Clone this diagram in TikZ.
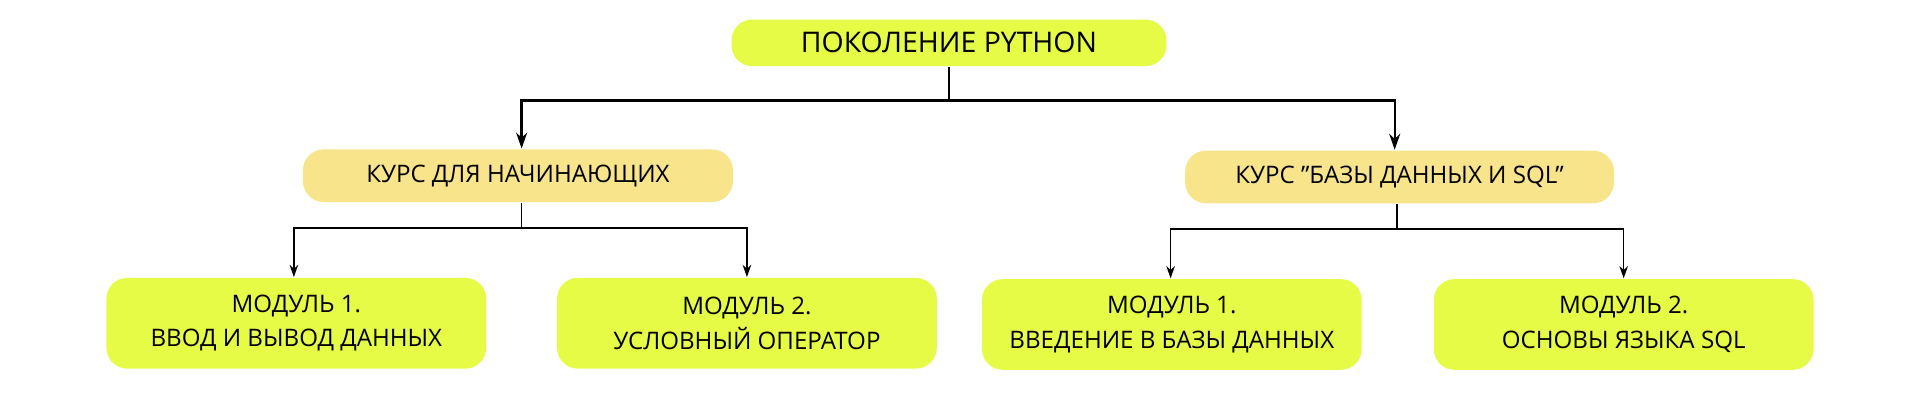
\documentclass[tikz,border=0pt]{standalone}
\usepackage{fontspec}
\setmainfont{Open Sans}
\usetikzlibrary{arrows.meta}
\definecolor{lime}{HTML}{E6FB45}
\definecolor{sand}{HTML}{F8E48A}

\begin{document}
\begin{tikzpicture}[x=0.01cm,y=-0.01cm]
    \tikzset{box/.style={rounded corners=0.17cm, inner sep=0pt, align=center, font=\fontsize{5.6}{8}\selectfont},
        wire/.style={line width=0.55pt, -{Stealth[length=1.3mm,width=0.9mm]}},
        thin wire/.style={line width=0.35pt, -{Stealth[length=1.0mm,width=0.7mm]}}}
    \useasboundingbox (0,0) rectangle (1568,327.5);
    \node[box, fill=lime, minimum width=3.55cm, minimum height=0.38cm, font=\fontsize{6.6}{8}\selectfont] (top) at (775,35) {ПОКОЛЕНИЕ PYTHON};
    \node[box, fill=sand, minimum width=3.51cm, minimum height=0.43cm] (left) at (423,143.5) {КУРС ДЛЯ НАЧИНАЮЩИХ};
    \node[box, fill=sand, minimum width=3.50cm, minimum height=0.43cm] (right) at (1143,144.5) {КУРС "БАЗЫ ДАННЫХ И SQL"};
    \node[box, fill=lime, minimum width=3.10cm, minimum height=0.74cm] (m11) at (242,264) {МОДУЛЬ 1.\\ВВОД И ВЫВОД ДАННЫХ};
    \node[box, fill=lime, minimum width=3.10cm, minimum height=0.74cm] (m12) at (610,264) {МОДУЛЬ 2.\\УСЛОВНЫЙ ОПЕРАТОР};
    \node[box, fill=lime, minimum width=3.10cm, minimum height=0.74cm] (m21) at (957,265) {МОДУЛЬ 1.\\ВВЕДЕНИЕ В БАЗЫ ДАННЫХ};
    \node[box, fill=lime, minimum width=3.10cm, minimum height=0.74cm] (m22) at (1326,265) {МОДУЛЬ 2.\\ОСНОВЫ ЯЗЫКА SQL};

    \coordinate (j0) at (775,82);
    \coordinate (j1) at (426,186);
    \coordinate (j2) at (1141,187);
    \draw[line width=0.55pt] (top.south) -- (j0);
    \draw[wire] (j0) -| (left.north -| 426,0);
    \draw[wire] (j0) -| (right.north -| 1139,0);
    \draw[line width=0.35pt] (left.south -| j1) -- (j1);
    \draw[thin wire] (j1) -| (m11.north -| 240,0);
    \draw[thin wire] (j1) -| (m12.north);
    \draw[line width=0.35pt] (right.south -| j2) -- (j2);
    \draw[thin wire] (j2) -| (m21.north -| 956,0);
    \draw[thin wire] (j2) -| (m22.north);
\end{tikzpicture}
\end{document}
